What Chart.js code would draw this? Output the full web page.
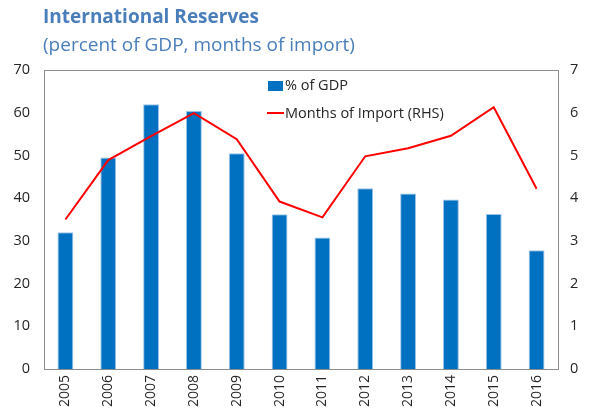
<!DOCTYPE html>
<html>
<head>
<meta charset="utf-8">
<script src="https://cdn.jsdelivr.net/npm/chart.js@4/dist/chart.umd.min.js"></script>
<style>
  html, body { margin: 0; padding: 0; background: #fff; }
  #wrap { position: relative; width: 592px; height: 416px; }
  #chart { position: absolute; left: 0; top: 0; }
  .ttl { position: absolute; left: 43px; font-family: "Open Sans", sans-serif; color: #4a7ebb; white-space: nowrap; }
  #t1 { top: 3px; font-size: 19px; font-weight: 700; }
  #t2 { top: 31px; font-size: 19px; }
</style>
</head>
<body>
<div id="wrap">
  <canvas id="chart" width="592" height="416"></canvas>
  <div class="ttl" id="t1">International Reserves</div>
  <div class="ttl" id="t2">(percent of GDP, months of import)</div>
</div>
<script>
const years = ['2005', '2006', '2007', '2008', '2009', '2010', '2011', '2012', '2013', '2014', '2015', '2016'];
const pctOfGdp = [32, 49.5, 62, 60.4, 50.5, 36.2, 30.8, 42.3, 41.1, 39.7, 36.3, 27.8];
const monthsOfImport = [3.5, 4.89, 5.45, 5.99, 5.38, 3.92, 3.55, 4.98, 5.17, 5.46, 6.13, 4.22];
const leftTicks = [0, 10, 20, 30, 40, 50, 60, 70];
const rightTicks = [0, 1, 2, 3, 4, 5, 6, 7];

const BLUE = '#0070c0';
const RED = '#ff0000';
const TEXT = '#262626';
const FONT = '"Open Sans", sans-serif';

// plot frame + in-plot legend
const frameLegend = {
    id: 'frameLegend',
    afterDraw: function (chart) {
        const ctx = chart.ctx;
        const a = chart.chartArea;
        ctx.save();
        ctx.strokeStyle = '#8c8c8c';
        ctx.lineWidth = 1;
        ctx.strokeRect(Math.round(a.left) + 0.5, Math.round(a.top) + 0.5,
            Math.round(a.right - a.left), Math.round(a.bottom - a.top));

        ctx.font = '14.5px ' + FONT;
        ctx.textBaseline = 'middle';
        ctx.fillStyle = BLUE;
        ctx.fillRect(268, 81, 15, 10);
        ctx.fillStyle = TEXT;
        ctx.fillText('% of GDP', 285, 86);
        ctx.strokeStyle = RED;
        ctx.lineWidth = 2;
        ctx.beginPath();
        ctx.moveTo(267, 113);
        ctx.lineTo(284, 113);
        ctx.stroke();
        ctx.fillText('Months of Import (RHS)', 285, 114);
        ctx.restore();
    }
};

new Chart(document.getElementById('chart'), {
    data: {
        labels: years,
        datasets: [
            {
                type: 'line',
                label: 'Months of Import (RHS)',
                data: monthsOfImport,
                yAxisID: 'y1',
                borderColor: RED,
                borderWidth: 2,
                pointRadius: 0,
                tension: 0,
                order: 0
            },
            {
                type: 'bar',
                label: '% of GDP',
                data: pctOfGdp,
                yAxisID: 'y',
                backgroundColor: BLUE,
                borderColor: '#9cc3e6',
                borderWidth: 1,
                borderSkipped: 'bottom',
                categoryPercentage: 1,
                barPercentage: 0.37,
                order: 1
            }
        ]
    },
    options: {
        responsive: false,
        animation: false,
        layout: { padding: { top: 70, left: 0, right: 0, bottom: 0 } },
        plugins: {
            legend: { display: false },
            tooltip: { enabled: false }
        },
        scales: {
            x: {
                grid: { display: false, drawTicks: false },
                border: { display: false },
                ticks: {
                    color: TEXT,
                    font: { family: FONT, size: 14 },
                    maxRotation: 90,
                    minRotation: 90,
                    padding: 6
                },
                afterFit: function (s) { s.height = 47; }
            },
            y: {
                position: 'left',
                min: 0,
                max: 70,
                grid: { display: false, drawTicks: false },
                border: { display: false },
                afterBuildTicks: function (s) { s.ticks = leftTicks.map(function (v) { return { value: v }; }); },
                ticks: { color: TEXT, font: { family: FONT, size: 14.5 }, padding: 14 },
                afterFit: function (s) { s.width = 44; }
            },
            y1: {
                position: 'right',
                min: 0,
                max: 7,
                grid: { display: false, drawTicks: false },
                border: { display: false },
                afterBuildTicks: function (s) { s.ticks = rightTicks.map(function (v) { return { value: v }; }); },
                ticks: { color: TEXT, font: { family: FONT, size: 14.5 }, padding: 12 },
                afterFit: function (s) { s.width = 34; }
            }
        }
    },
    plugins: [frameLegend]
});
</script>
</body>
</html>
